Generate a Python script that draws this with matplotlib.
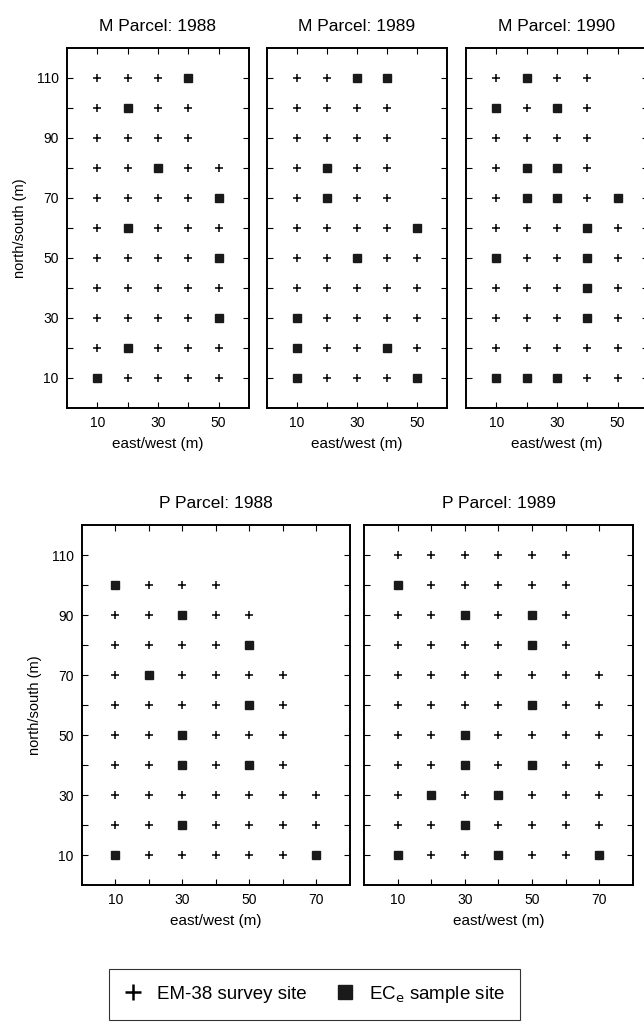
import matplotlib
matplotlib.use("Agg")

import matplotlib.pyplot as plt
from matplotlib.lines import Line2D

plt.rcParams["font.family"] = ["Liberation Sans", "DejaVu Sans"]

# north/south positions of the survey rows (m)
rows_y = [10, 20, 30, 40, 50, 60, 70, 80, 90, 100, 110]

# east-most survey column (m) for each row, read bottom to top
m1988_extent = [50, 50, 50, 50, 50, 50, 50, 50, 40, 40, 40]
m1989_extent = [50, 50, 50, 50, 50, 50, 40, 40, 40, 40, 40]
m1990_extent = [50, 50, 50, 50, 50, 50, 50, 40, 40, 40, 40]
p1988_extent = [70, 70, 70, 60, 60, 60, 60, 50, 50, 40, 0]
p1989_extent = [70, 70, 70, 70, 70, 70, 70, 60, 60, 60, 60]

# ECe sample sites (east/west, north/south)
m1988_x = [10, 20, 50, 50, 20, 50, 30, 20, 40]
m1988_y = [10, 20, 30, 50, 60, 70, 80, 100, 110]
m1989_x = [10, 50, 10, 40, 10, 30, 50, 20, 20, 30, 40]
m1989_y = [10, 10, 20, 20, 30, 50, 60, 70, 80, 110, 110]
m1990_x = [10, 20, 30, 40, 40, 10, 40, 40, 20, 30, 50, 20, 30, 10, 30, 20]
m1990_y = [10, 10, 10, 30, 40, 50, 50, 60, 70, 70, 70, 80, 80, 100, 100, 110]
p1988_x = [10, 70, 30, 30, 50, 30, 50, 20, 50, 30, 10]
p1988_y = [10, 10, 20, 40, 40, 50, 60, 70, 80, 90, 100]
p1989_x = [10, 40, 70, 30, 20, 40, 30, 50, 30, 50, 50, 30, 50, 10]
p1989_y = [10, 10, 10, 20, 30, 30, 40, 40, 50, 60, 80, 90, 90, 100]

panels = [
    ("M Parcel: 1988", m1988_extent, m1988_x, m1988_y, [0.104, 0.6016, 0.2826, 0.3516], 60),
    ("M Parcel: 1989", m1989_extent, m1989_x, m1989_y, [0.4146, 0.6016, 0.2795, 0.3516], 60),
    ("M Parcel: 1990", m1990_extent, m1990_x, m1990_y, [0.7236, 0.6016, 0.2826, 0.3516], 60),
    ("P Parcel: 1988", p1988_extent, p1988_x, p1988_y, [0.1273, 0.1357, 0.4161, 0.3516], 80),
    ("P Parcel: 1989", p1989_extent, p1989_x, p1989_y, [0.5652, 0.1357, 0.4177, 0.3516], 80),
]

fig = plt.figure(figsize=(6.44, 10.24), dpi=100)

for i, (title, extent, sx, sy, pos, xmax) in enumerate(panels):
    ax = fig.add_axes(pos)
    samples = set(zip(sx, sy))

    # survey grid minus the spots that were also sampled
    px, py = [], []
    for y, east in zip(rows_y, extent):
        for x in range(10, east + 1, 10):
            if (x, y) not in samples:
                px.append(x)
                py.append(y)

    ax.plot(px, py, linestyle="none", marker="+", color="black",
            markersize=6, markeredgewidth=1.1)
    ax.plot(sx, sy, linestyle="none", marker="s", color="#1a1a1a",
            markersize=6.3)

    ax.set_xlim(0, xmax)
    ax.set_ylim(0, 120)
    ax.set_xticks(range(10, xmax, 10))
    ax.set_xticklabels([str(v) if v % 20 == 10 else "" for v in range(10, xmax, 10)])
    ax.set_yticks(range(10, 120, 10))
    ax.set_yticklabels([str(v) if v % 20 == 10 else "" for v in range(10, 120, 10)])
    ax.tick_params(direction="in", length=4, width=0.8, top=True, right=True,
                   labelsize=10, pad=6)
    for s in ax.spines.values():
        s.set_linewidth(1.4)

    ax.set_title(title, fontsize=12.5, pad=12)
    ax.set_xlabel("east/west (m)", fontsize=11, labelpad=5)
    if i in (0, 3):
        ax.set_ylabel("north/south (m)", fontsize=10.5, labelpad=7)
    else:
        ax.set_yticklabels([])

handles = [
    Line2D([], [], linestyle="none", marker="+", color="black",
           markersize=12, markeredgewidth=1.8),
    Line2D([], [], linestyle="none", marker="s", color="#1a1a1a",
           markersize=10),
]
leg = fig.legend(handles, ["EM-38 survey site", r"EC$_\mathrm{e}$ sample site"],
                 loc="center", bbox_to_anchor=(0.488, 0.029), ncol=2,
                 fontsize=13.5, frameon=True, fancybox=False, edgecolor="black",
                 borderpad=0.8, handletextpad=0.8, columnspacing=1.5,
                 handlelength=1.0, borderaxespad=0.0)
leg.get_frame().set_linewidth(0.8)

plt.savefig("out.png", dpi=100)
plt.close()
